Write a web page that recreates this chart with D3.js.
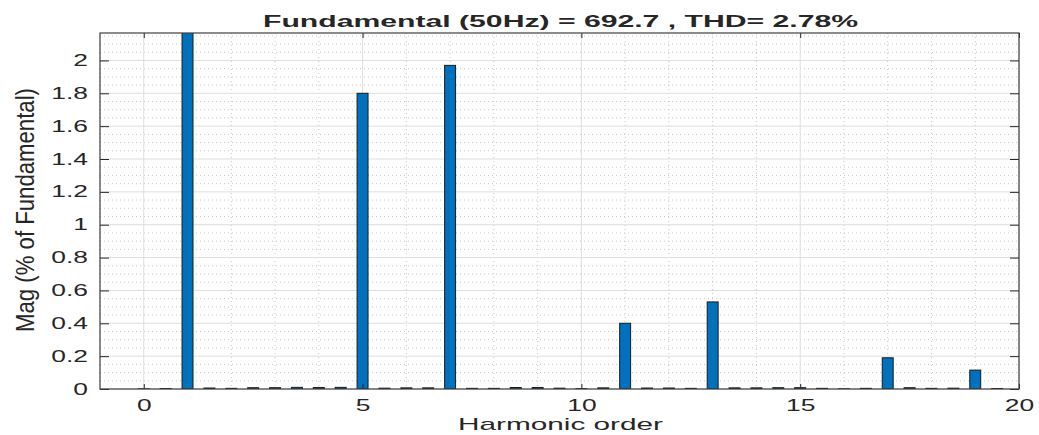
<html>
<head>
<script src="https://d3js.org/d3.v7.min.js"></script>
<style>
  body { margin: 0; background: #fff; }
  text { font-family: "Liberation Sans", Arial, Helvetica, sans-serif; fill: #262626; }
</style>
</head>
<body>
<script>
// harmonic orders (step 0.5) and magnitude in % of fundamental
var orders = [0, 0.5, 1, 1.5, 2, 2.5, 3, 3.5, 4, 4.5,
              5, 5.5, 6, 6.5, 7, 7.5, 8, 8.5, 9, 9.5,
              10, 10.5, 11, 11.5, 12, 12.5, 13, 13.5, 14, 14.5,
              15, 15.5, 16, 16.5, 17, 17.5, 18, 18.5, 19, 19.5];
var magnitudes = [0.001, 0.003, 100, 0.006, 0.004, 0.008, 0.008, 0.010, 0.009, 0.010,
                  1.80, 0.005, 0.007, 0.007, 1.97, 0.004, 0.004, 0.009, 0.009, 0.005,
                  0.002, 0.007, 0.40, 0.006, 0.006, 0.004, 0.53, 0.007, 0.007, 0.008,
                  0.008, 0.004, 0.001, 0.004, 0.19, 0.008, 0.004, 0.005, 0.115, 0.003];
var xTicks = [0, 5, 10, 15, 20];
var yTicks = [0, 0.2, 0.4, 0.6, 0.8, 1, 1.2, 1.4, 1.6, 1.8, 2];
var titleText = "Fundamental (50Hz) = 692.7 , THD= 2.78%";

var w = 1039, h = 435;
var mLeft = 100, mRight = 1019, mTop = 33, mBottom = 389;
var sx = 1.65; // horizontal stretch of the text in the picture

var x = d3.scaleLinear().domain([-1, 20]).range([mLeft, mRight]);
var y = d3.scaleLinear().domain([0, 2.167]).range([mBottom, mTop]);

var svg = d3.select("body").append("svg").attr("width", w).attr("height", h);
svg.append("rect").attr("width", w).attr("height", h).attr("fill", "#fff");

svg.append("clipPath").attr("id", "plotclip").append("rect")
  .attr("x", mLeft).attr("y", mTop).attr("width", mRight - mLeft).attr("height", mBottom - mTop);

// minor grid (dotted)
var grid = svg.append("g");
var minorX = d3.range(-1, 21, 1).filter(function(v){ return v % 5 !== 0; });
var minorY = d3.range(0, 2.167, 0.05).filter(function(v){ return Math.abs(v / 0.2 - Math.round(v / 0.2)) > 0.01; });
grid.selectAll(".mx").data(minorX).enter().append("line")
  .attr("x1", function(d){ return x(d); }).attr("x2", function(d){ return x(d); })
  .attr("y1", mTop).attr("y2", mBottom)
  .attr("stroke", "#c8c8c8").attr("stroke-width", 1).attr("stroke-dasharray", "1,3");
grid.selectAll(".my").data(minorY).enter().append("line")
  .attr("x1", mLeft).attr("x2", mRight)
  .attr("y1", function(d){ return y(d); }).attr("y2", function(d){ return y(d); })
  .attr("stroke", "#c8c8c8").attr("stroke-width", 1).attr("stroke-dasharray", "1,3");
// major grid
grid.selectAll(".gx").data(xTicks).enter().append("line")
  .attr("x1", function(d){ return x(d); }).attr("x2", function(d){ return x(d); })
  .attr("y1", mTop).attr("y2", mBottom)
  .attr("stroke", "#dedede").attr("stroke-width", 1);
grid.selectAll(".gy").data(yTicks).enter().append("line")
  .attr("x1", mLeft).attr("x2", mRight)
  .attr("y1", function(d){ return y(d); }).attr("y2", function(d){ return y(d); })
  .attr("stroke", "#dedede").attr("stroke-width", 1);

// bars
var bw = x(0.25) - x(0);
svg.append("g").attr("clip-path", "url(#plotclip)")
  .selectAll("rect").data(orders).enter().append("rect")
  .attr("x", function(d){ return x(d) - bw / 2; })
  .attr("y", function(d, i){ return y(magnitudes[i]); })
  .attr("width", bw)
  .attr("height", function(d, i){ return y(0) - y(magnitudes[i]); })
  .attr("fill", "#0072BD").attr("stroke", "#1a1a1a").attr("stroke-width", 1);

// axes
var xAxis = d3.axisBottom(x).tickValues(xTicks).tickSizeInner(-5).tickSizeOuter(0).tickPadding(11);
var yAxis = d3.axisLeft(y).tickValues(yTicks).tickSizeInner(-9).tickSizeOuter(0).tickPadding(12)
  .tickFormat(function(d){ return d3.format("~g")(d); });

var gx = svg.append("g").attr("transform", "translate(0," + mBottom + ")").call(xAxis);
var gy = svg.append("g").attr("transform", "translate(" + mLeft + ",0)").call(yAxis);
svg.append("g").attr("transform", "translate(0," + mTop + ")")
  .call(d3.axisTop(x).tickValues(xTicks).tickSizeInner(-5).tickSizeOuter(0).tickFormat(""));
svg.append("g").attr("transform", "translate(" + mRight + ",0)")
  .call(d3.axisRight(y).tickValues(yTicks).tickSizeInner(-9).tickSizeOuter(0).tickFormat(""));

svg.selectAll(".domain").remove();
svg.selectAll(".tick line").attr("stroke", "#262626");
svg.selectAll(".tick text").style("font-size", "16px").attr("fill", "#262626");
gx.selectAll(".tick text").attr("transform", "scale(" + sx + ",1)");
gy.selectAll(".tick text").attr("x", -12 / sx).attr("transform", "scale(" + sx + ",1)");

// box
svg.append("rect").attr("x", mLeft).attr("y", mTop)
  .attr("width", mRight - mLeft).attr("height", mBottom - mTop)
  .attr("fill", "none").attr("stroke", "#404040").attr("stroke-width", 1.2);

// title and labels
svg.append("text").attr("x", 560.5).attr("y", 26.5).attr("text-anchor", "middle")
  .style("font-size", "16px").style("font-weight", "bold").attr("fill", "#000")
  .attr("textLength", 595).attr("lengthAdjust", "spacingAndGlyphs")
  .text(titleText);

svg.append("text").attr("x", 560.5).attr("y", 430).attr("text-anchor", "middle")
  .style("font-size", "17px")
  .attr("textLength", 205).attr("lengthAdjust", "spacingAndGlyphs")
  .text("Harmonic order");

svg.append("text").attr("transform", "translate(34,210) scale(1.45,1) rotate(-90)")
  .attr("text-anchor", "middle").style("font-size", "18px")
  .attr("textLength", 244).attr("lengthAdjust", "spacingAndGlyphs")
  .text("Mag (% of Fundamental)");
</script>
</body>
</html>
